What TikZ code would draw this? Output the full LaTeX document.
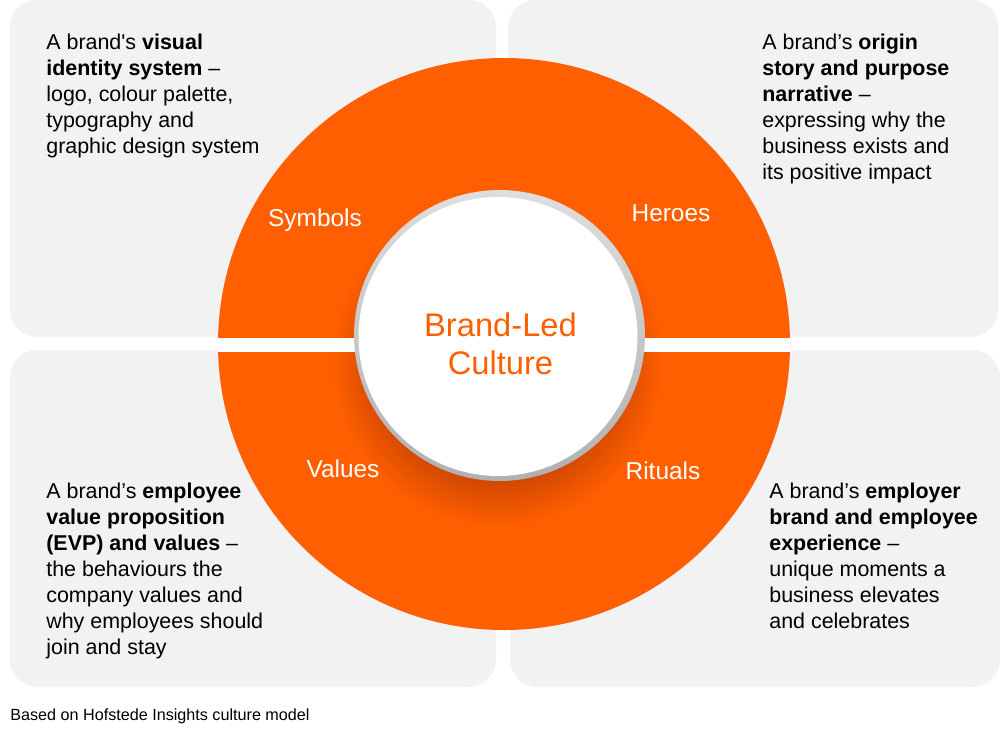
\documentclass[tikz,border=0pt]{standalone}
\usepackage{fontspec}
\setmainfont{Liberation Sans}
\newfontfamily\descfont{Liberation Sans}
\definecolor{brandorange}{RGB}{255,95,0}
\definecolor{panelgray}{RGB}{242,242,242}
\definecolor{rimtop}{RGB}{222,222,222}
\definecolor{rimbottom}{RGB}{176,176,176}
\tikzset{panel/.style={fill=panelgray,rounded corners=15.5pt},
desc/.style={align=left,anchor=north west,inner sep=0pt,font=\descfont\fontsize{12.2}{14.75}\selectfont,text=black},
seglabel/.style={text=white,inner sep=0pt,font=\fontsize{13.9}{15}\selectfont}}
\begin{document}
\begin{tikzpicture}[x=0.02cm,y=-0.02cm]
\useasboundingbox (0,0) rectangle (1000,735);
\fill[panel] (10,0) rectangle (496,337);
\fill[panel] (508,0) rectangle (998,337);
\fill[panel] (10,350) rectangle (496,687);
\fill[panel] (510,350) rectangle (1000,687);

\fill[brandorange] (504,344) circle[radius=286];
% soft shadow under the centre disc
\foreach \r in {121,123,...,165}
  \fill[black,opacity=0.007] (498,361) circle[radius=\r];
\fill[white] (218,338) rectangle (790,351.5);
\node[circle,top color=rimtop,bottom color=rimbottom,inner sep=0pt,minimum size=5.82cm] (rim) at (499.5,335.5) {};
\node[circle,fill=white,inner sep=0pt,minimum size=5.58cm] (core) at (498,336.5) {};
\node[align=center,text=brandorange,inner sep=0pt,font=\fontsize{18.6}{21.6}\selectfont] (corelabel) at (500.5,344) {Brand-Led\\Culture};

\node[seglabel] (symbols) at (315,220) {Symbols};
\node[seglabel] (heroes) at (671,213) {Heroes};
\node[seglabel] (values) at (343,469) {Values};
\node[seglabel] (rituals) at (663,471) {Rituals};

\node[desc] (tl) at (46,34) {A brand's \textbf{visual}\\\textbf{identity system} –\\logo, colour palette,\\typography and\\graphic design system};
\node[desc] (tr) at (762,34) {A brand’s \textbf{origin}\\\textbf{story and purpose}\\\textbf{narrative} –\\expressing why the\\business exists and\\its positive impact};
\node[desc] (bl) at (46,483) {A brand’s \textbf{employee}\\\textbf{value proposition}\\\textbf{(EVP) and values} –\\the behaviours the\\company values and\\why employees should\\join and stay};
\node[desc] (br) at (769,483) {A brand’s \textbf{employer}\\\textbf{brand and employee}\\\textbf{experience} –\\unique moments a\\business elevates\\and celebrates};

\node[anchor=west,inner sep=0pt,font=\fontsize{9.2}{11}\selectfont] (source) at (10,716) {Based on Hofstede Insights culture model};
\end{tikzpicture}
\end{document}
